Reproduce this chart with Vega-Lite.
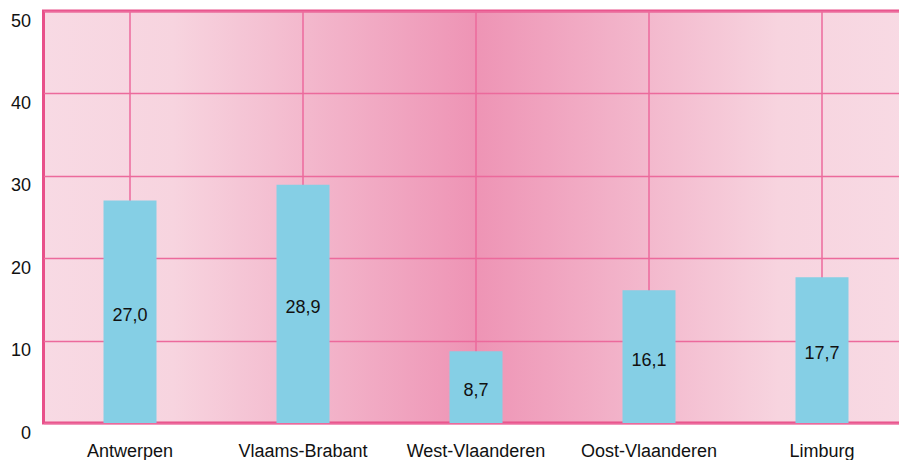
{
  "$schema": "https://vega.github.io/schema/vega-lite/v6.json",
  "width": 865,
  "height": 412,
  "autosize": "none",
  "padding": {"left": 43.5, "top": 11, "right": 0, "bottom": 37},
  "background": "#ffffff",
  "data": {
    "values": [
      {"provincie": "Antwerpen", "waarde": 27.0, "label": "27,0"},
      {"provincie": "Vlaams-Brabant", "waarde": 28.9, "label": "28,9"},
      {"provincie": "West-Vlaanderen", "waarde": 8.7, "label": "8,7"},
      {"provincie": "Oost-Vlaanderen", "waarde": 16.1, "label": "16,1"},
      {"provincie": "Limburg", "waarde": 17.7, "label": "17,7"}
    ]
  },
  "encoding": {
    "x": {
      "field": "provincie",
      "type": "nominal",
      "sort": null,
      "scale": {"paddingInner": 0, "paddingOuter": 0},
      "axis": {
        "title": null,
        "grid": true,
        "gridColor": "#ec6a9c",
        "gridWidth": 1.5,
        "gridOpacity": 1,
        "ticks": false,
        "domain": false,
        "labelAngle": 0,
        "labelPadding": 19,
        "labelFont": "Liberation Sans",
        "labelFontSize": 18,
        "labelColor": "#111111"
      }
    }
  },
  "layer": [
    {
      "mark": {"type": "bar", "color": "#85cfe5", "size": 53},
      "encoding": {
        "y": {
          "field": "waarde",
          "type": "quantitative",
          "scale": {"domain": [0, 50], "nice": false},
          "axis": {
            "title": null,
            "values": [0, 10, 20, 30, 40, 50],
            "grid": true,
            "gridColor": "#ec6a9c",
            "gridWidth": 1.5,
            "gridOpacity": 1,
            "ticks": false,
            "domain": false,
            "labelPadding": 13,
            "labelOffset": 10,
            "labelFont": "Liberation Sans",
            "labelFontSize": 18,
            "labelColor": "#111111"
          }
        }
      }
    },
    {
      "transform": [{"calculate": "datum.waarde / 2", "as": "midden"}],
      "mark": {
        "type": "text",
        "font": "Liberation Sans",
        "fontSize": 18,
        "color": "#111111",
        "baseline": "middle",
        "dy": 4
      },
      "encoding": {
        "y": {"field": "midden", "type": "quantitative"},
        "text": {"field": "label"}
      }
    }
  ],
  "config": {
    "view": {
      "stroke": "#e8508a",
      "strokeWidth": 3,
      "fill": {
        "gradient": "linear",
        "x1": 0, "y1": 0, "x2": 1, "y2": 0,
        "stops": [
          {"offset": 0, "color": "#f8dae4"},
          {"offset": 0.15, "color": "#f7d4df"},
          {"offset": 0.5, "color": "#ee94b5"},
          {"offset": 0.85, "color": "#f7d4df"},
          {"offset": 1, "color": "#f8dae4"}
        ]
      }
    }
  }
}
